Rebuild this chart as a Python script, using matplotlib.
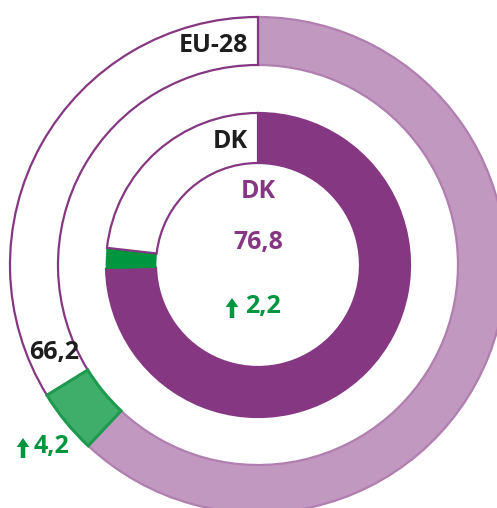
import matplotlib
matplotlib.use("Agg")
import matplotlib.pyplot as plt

# Data
outer_label = "EU-28"
outer_total = 66.2
outer_change = 4.2
inner_label = "DK"
inner_total = 76.8
inner_change = 2.2

outer_values = [outer_total - outer_change, outer_change, 100 - outer_total]
inner_values = [inner_total - inner_change, inner_change, 100 - inner_total]

PURPLE = "#853782"
LIGHT_PURPLE = "#c098c0"
GREEN = "#00963f"
LIGHT_GREEN = "#40ae6b"
GREEN_EDGE = "#1e9a4f"
TEXT_DARK = "#1e1e1e"

W, H = 497, 508
fig = plt.figure(figsize=(W / 100, H / 100), dpi=100)
ax = fig.add_axes([0, 0, 1, 1])

cx, cy = 258, H - 265

outer, _ = ax.pie(outer_values, radius=248, center=(cx, cy), startangle=90,
                  counterclock=False, wedgeprops=dict(width=48, linewidth=1.6),
                  colors=[LIGHT_PURPLE, LIGHT_GREEN, "white"])
outer[0].set_edgecolor("#b07fb0")
outer[1].set_edgecolor(GREEN_EDGE)
outer[1].set_linewidth(2.2)
outer[2].set_edgecolor(PURPLE)
outer[1].set_zorder(3)

inner, _ = ax.pie(inner_values, radius=152, center=(cx, cy), startangle=90,
                  counterclock=False, wedgeprops=dict(width=50, linewidth=1.6),
                  colors=[PURPLE, GREEN, "white"])
inner[0].set_edgecolor(PURPLE)
inner[1].set_edgecolor(GREEN)
inner[1].set_linewidth(0.5)
inner[2].set_edgecolor(PURPLE)

ax.set_xlim(0, W)
ax.set_ylim(0, H)
ax.set_aspect("equal")
ax.axis("off")

fam = ["Open Sans", "DejaVu Sans"]
fs = 18

def fmt(v):
    return f"{v:.1f}".replace(".", ",")

ax.text(248, H - 46, outer_label, ha="right", va="center", fontsize=fs,
        fontweight="bold", color=TEXT_DARK, family=fam)
ax.text(248, H - 141, inner_label, ha="right", va="center", fontsize=fs,
        fontweight="bold", color=TEXT_DARK, family=fam)
ax.text(cx, H - 191, inner_label, ha="center", va="center", fontsize=fs,
        fontweight="bold", color=PURPLE, family=fam)
ax.text(cx, H - 243, fmt(inner_total), ha="center", va="center", fontsize=fs,
        fontweight="bold", color=PURPLE, family=fam)
ax.text(245, H - 306, fmt(inner_change), ha="left", va="center", fontsize=fs,
        fontweight="bold", color=GREEN, family=fam)
ax.text(54, H - 353, fmt(outer_total), ha="center", va="center", fontsize=fs,
        fontweight="bold", color=TEXT_DARK, family=fam)
ax.text(34, H - 446, fmt(outer_change), ha="left", va="center", fontsize=fs,
        fontweight="bold", color=GREEN, family=fam)

def up_arrow(x, ybottom):
    ax.arrow(x, ybottom, 0, 11, width=4.5, head_width=12.5, head_length=9,
             length_includes_head=False, color=GREEN, linewidth=0)

up_arrow(232, H - 318)
up_arrow(23, H - 458)

fig.savefig("out.png", dpi=100)
